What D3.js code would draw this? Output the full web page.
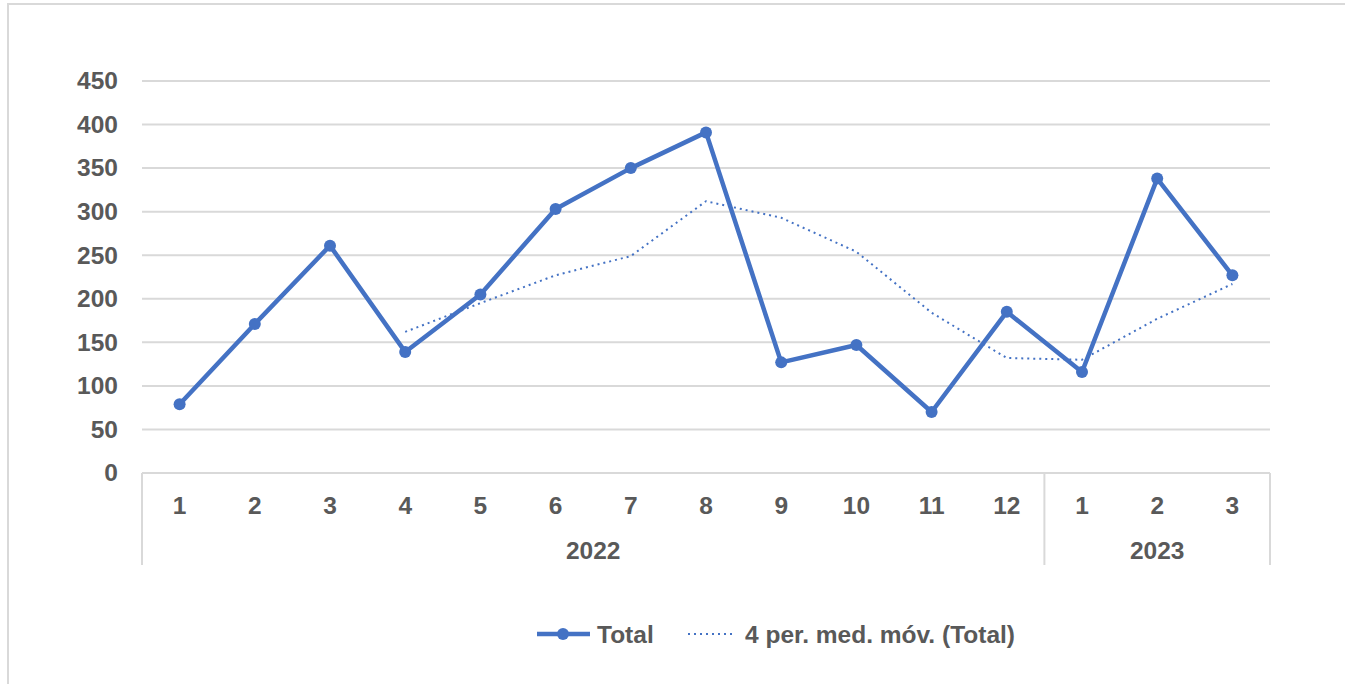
<!DOCTYPE html>
<html>
<head>
<meta charset="utf-8">
<script src="https://cdn.jsdelivr.net/npm/d3@7"></script>
<style>
  body { margin: 0; background: #fff; }
  text { font-family: "Liberation Sans", Arial, sans-serif; font-weight: bold; fill: #595959; }
</style>
</head>
<body>
<script>
//chart data
var years = ["2022", "2023"];
var months = ["1","2","3","4","5","6","7","8","9","10","11","12","1","2","3"];
var monthYear = ["2022","2022","2022","2022","2022","2022","2022","2022","2022","2022","2022","2022","2023","2023","2023"];
var total = [79, 171, 261, 139, 205, 303, 350, 391, 127, 147, 70, 185, 116, 338, 227];
//4 period moving average, starts at the 4th point
var movAvg = [null, null, null, 162, 195, 227, 249, 312, 293, 254, 184, 132, 130, 177, 217];
var yTicks = [0, 50, 100, 150, 200, 250, 300, 350, 400, 450];
var seriesNames = ["Total", "4 per. med. móv. (Total)"];

var width = 1345, height = 684;
var blue = "#4472C4", grid = "#d9d9d9";
var fontSize = "24.5px";

var svg = d3.select("body").append("svg")
    .attr("width", width)
    .attr("height", height);

//outer chart frame (only top and left edges show)
svg.append("line").attr("x1", 8).attr("x2", width).attr("y1", 4).attr("y2", 4)
    .attr("stroke", grid).attr("stroke-width", 2);
svg.append("line").attr("x1", 8).attr("x2", 8).attr("y1", 3).attr("y2", height)
    .attr("stroke", grid).attr("stroke-width", 2);

var plot = {left: 142, right: 1270, top: 81, bottom: 473};

var x = d3.scaleBand()
    .domain(d3.range(months.length))
    .range([plot.left, plot.right]);

var y = d3.scaleLinear()
    .domain([0, 450])
    .range([plot.bottom, plot.top]);

//gridlines
svg.append("g").selectAll("line")
    .data(yTicks)
    .enter().append("line")
    .attr("x1", plot.left).attr("x2", plot.right)
    .attr("y1", function(d){ return y(d); })
    .attr("y2", function(d){ return y(d); })
    .attr("stroke", grid).attr("stroke-width", 2);

//y axis labels
var yAxis = d3.axisLeft(y).tickValues(yTicks).tickSize(0).tickPadding(24);
var gy = svg.append("g")
    .attr("transform", "translate(" + plot.left + ",0)")
    .call(yAxis);
gy.select(".domain").remove();
gy.selectAll("text")
    .style("font-size", fontSize)
    .style("font-family", "Liberation Sans, Arial, sans-serif")
    .attr("fill", "#595959");

//x axis month labels
var axisBottom = 565;
svg.append("g").selectAll("text")
    .data(months)
    .enter().append("text")
    .attr("x", function(d, i){ return x(i) + x.bandwidth() / 2; })
    .attr("y", 514)
    .attr("text-anchor", "middle")
    .style("font-size", fontSize)
    .text(function(d){ return d; });

//year groups and separators
var groups = years.map(function(yr){
    var idx = d3.range(months.length).filter(function(i){ return monthYear[i] === yr; });
    return {year: yr, x0: x(idx[0]), x1: x(idx[idx.length - 1]) + x.bandwidth()};
});

var edges = [plot.left].concat(groups.map(function(g){ return g.x1; }));
svg.append("g").selectAll("line")
    .data(edges)
    .enter().append("line")
    .attr("x1", function(d){ return d; }).attr("x2", function(d){ return d; })
    .attr("y1", plot.bottom).attr("y2", axisBottom)
    .attr("stroke", grid).attr("stroke-width", 2);

svg.append("g").selectAll("text")
    .data(groups)
    .enter().append("text")
    .attr("x", function(d){ return (d.x0 + d.x1) / 2; })
    .attr("y", 559)
    .attr("text-anchor", "middle")
    .style("font-size", fontSize)
    .text(function(d){ return d.year; });

//moving average line
var lineGen = d3.line()
    .defined(function(d){ return d != null; })
    .x(function(d, i){ return x(i) + x.bandwidth() / 2; })
    .y(function(d){ return y(d); });

svg.append("path")
    .datum(movAvg)
    .attr("d", lineGen)
    .attr("fill", "none")
    .attr("stroke", blue)
    .attr("stroke-width", 2)
    .attr("stroke-dasharray", "2,4");

//total line
svg.append("path")
    .datum(total)
    .attr("d", lineGen)
    .attr("fill", "none")
    .attr("stroke", blue)
    .attr("stroke-width", 4.5)
    .attr("stroke-linejoin", "round");

svg.append("g").selectAll("circle")
    .data(total)
    .enter().append("circle")
    .attr("cx", function(d, i){ return x(i) + x.bandwidth() / 2; })
    .attr("cy", function(d){ return y(d); })
    .attr("r", 6)
    .attr("fill", blue);

//legend
var legY = 634;
var leg = svg.append("g");
leg.append("line").attr("x1", 537).attr("x2", 590).attr("y1", legY).attr("y2", legY)
    .attr("stroke", blue).attr("stroke-width", 4.5);
leg.append("circle").attr("cx", 563).attr("cy", legY).attr("r", 6).attr("fill", blue);
leg.append("text").attr("x", 597).attr("y", legY + 8.5)
    .style("font-size", fontSize).text(seriesNames[0]);
leg.append("line").attr("x1", 688).attr("x2", 736).attr("y1", legY).attr("y2", legY)
    .attr("stroke", blue).attr("stroke-width", 2).attr("stroke-dasharray", "2,4");
leg.append("text").attr("x", 745).attr("y", legY + 8.5)
    .style("font-size", fontSize).text(seriesNames[1]);
</script>
</body>
</html>
